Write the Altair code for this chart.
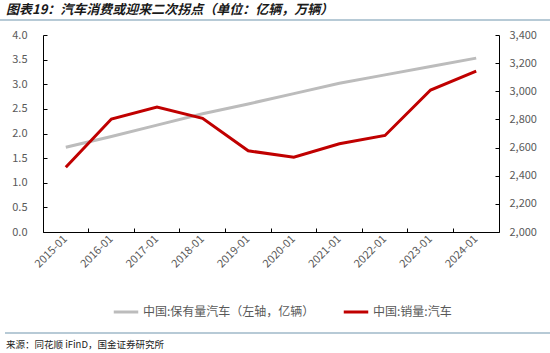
import altair as alt
import pandas as pd

dates = ["2015-01", "2016-01", "2017-01", "2018-01", "2019-01",
         "2020-01", "2021-01", "2022-01", "2023-01", "2024-01"]
ownership = [1.72, 1.94, 2.17, 2.40, 2.60, 2.81, 3.02, 3.19, 3.36, 3.53]
sales = [2460, 2803, 2888, 2808, 2577, 2531, 2627, 2686, 3009, 3144]

s_own = "中国:保有量汽车（左轴，亿辆）"
s_sales = "中国:销量:汽车"
title_text = "图表19：汽车消费或迎来二次拐点（单位：亿辆，万辆）"
source_text = "来源：同花顺 iFinD，国金证券研究所"

left_ticks = [0, 0.5, 1.0, 1.5, 2.0, 2.5, 3.0, 3.5, 4.0]
right_ticks = [2000, 2200, 2400, 2600, 2800, 3000, 3200, 3400]

df = pd.DataFrame({"date": dates, "own": ownership, "sales": sales,
                   "s1": [s_own] * len(dates), "s2": [s_sales] * len(dates)})

FONT = "Noto Sans CJK SC"
GRAY = "#595959"

xenc = alt.X("date:N", sort=dates, bandPosition=0.5,
             scale=alt.Scale(type="band", paddingInner=0, paddingOuter=0),
             axis=alt.Axis(title=None, labelAngle=315, labelAlign="right", labelBaseline="middle",
                           labelPadding=9, bandPosition=0, tickSize=alt.ExprRef("-4"),
                           labelFontSize=11))

cscale = alt.Scale(domain=[s_own, s_sales], range=["#bcbcbc", "#c00000"])

gray_line = alt.Chart(df).mark_line(strokeWidth=3).encode(
    x=xenc,
    y=alt.Y("own:Q", scale=alt.Scale(domain=[0, 4]),
            axis=alt.Axis(title=None, values=left_ticks, format=".1f", orient="left",
                          tickSize=alt.ExprRef("-4"), labelPadding=20)),
    color=alt.Color("s1:N", scale=cscale,
                    legend=alt.Legend(title=None, orient="none", legendX=69, legendY=263,
                                      direction="horizontal", symbolType="stroke",
                                      symbolStrokeWidth=3, symbolSize=600, columnPadding=22,
                                      labelFont=FONT, labelFontSize=12, labelColor=GRAY,
                                      labelOffset=3, labelLimit=400)),
)

red_line = alt.Chart(df).mark_line(strokeWidth=3).encode(
    x=xenc,
    y=alt.Y("sales:Q", scale=alt.Scale(domain=[2000, 3400]),
            axis=alt.Axis(title=None, values=right_ticks, format=",.0f", orient="right",
                          tickSize=alt.ExprRef("-4"), labelPadding=14)),
    color=alt.Color("s2:N", scale=cscale),
)

one = pd.DataFrame({"t": [title_text], "s": [source_text]})
title = alt.Chart(one).mark_text(align="left", baseline="middle", font=FONT, fontSize=13,
                                 fontWeight="bold", fontStyle="italic", color="#1a1a1a").encode(
    text="t:N", x=alt.value(-37), y=alt.value(-25))
source = alt.Chart(one).mark_text(align="left", baseline="middle", font=FONT, fontSize=9.5,
                                  color="#1a1a1a").encode(
    text="s:N", x=alt.value(-37), y=alt.value(310))
rule_top = alt.Chart(one).mark_rule(color="#9fb8c8", strokeWidth=1.5).encode(
    x=alt.value(-43), x2=alt.value(507), y=alt.value(-15))
rule_bot = alt.Chart(one).mark_rule(color="#9fb8c8", strokeWidth=1.5).encode(
    x=alt.value(-38), x2=alt.value(507), y=alt.value(298))

lines = alt.layer(gray_line, red_line).resolve_scale(y="independent")

chart = alt.layer(lines, title, source, rule_top, rule_bot).properties(
    width=456, height=197, autosize="none",
    padding={"left": 43, "top": 35, "right": 51, "bottom": 121},
).configure_axis(
    grid=False, domainColor="black", tickColor="black", labelColor=GRAY,
    labelFont=FONT, labelFontSize=11,
).configure_view(stroke=None)

chart.save("out.html", embed_options={"renderer": "svg", "actions": False})
